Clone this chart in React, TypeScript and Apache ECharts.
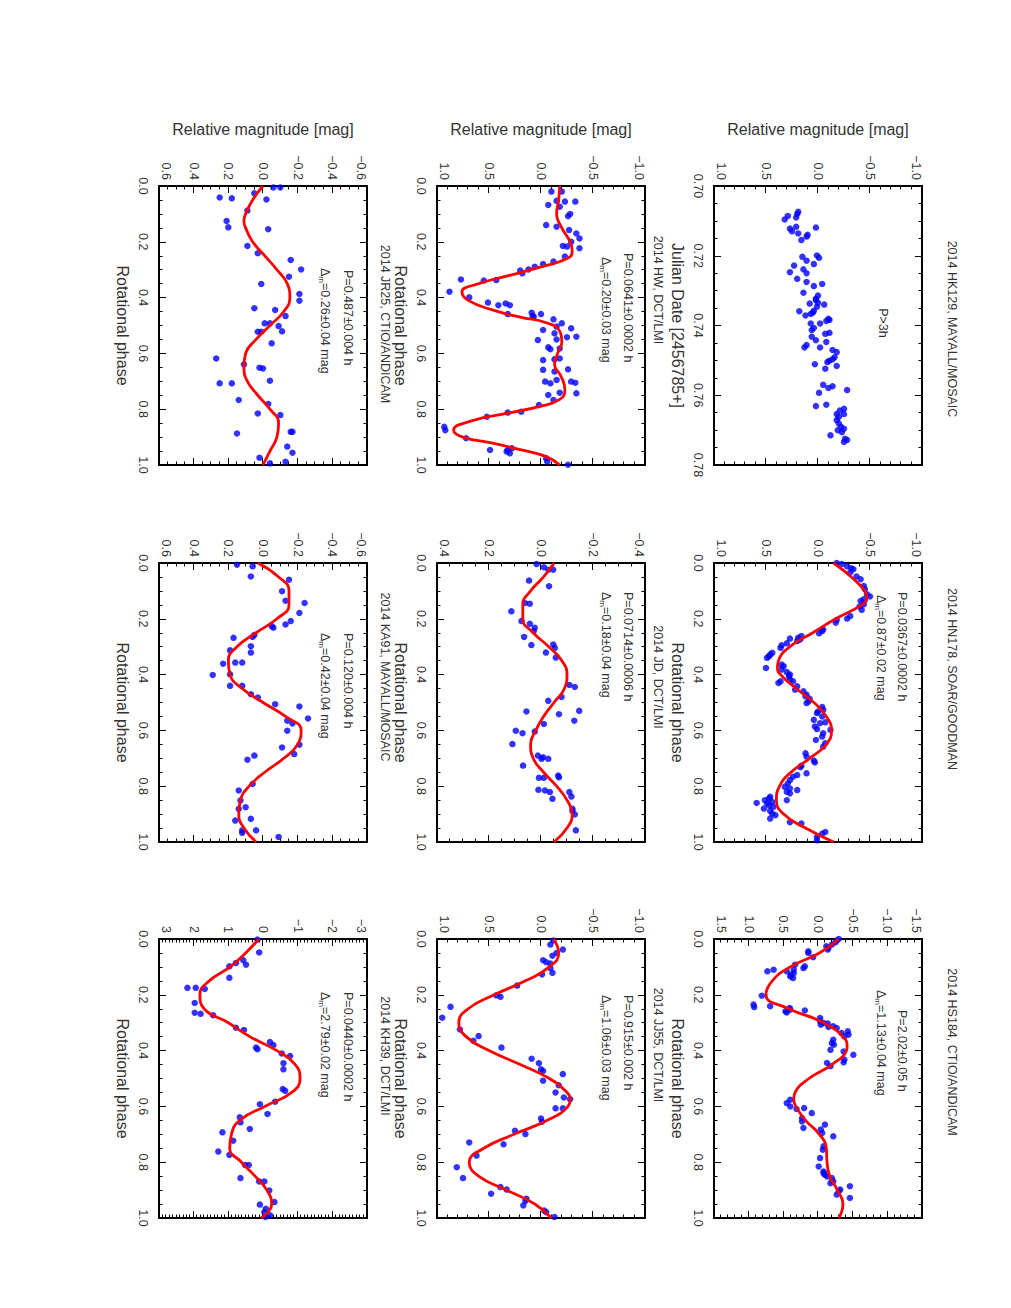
import React, { useEffect, useRef } from "react";
import * as echarts from "echarts";

// ---------------- data ----------------
const panelTitles = [
  "2014 HK129, MAYALL/MOSAIC",
  "2014 HN178, SOAR/GOODMAN",
  "2014 HS184, CTIO/ANDICAM",
  "2014 HW, DCT/LMI",
  "2014 JD, DCT/LMI",
  "2014 JJ55, DCT/LMI",
  "2014 JR25, CTIO/ANDICAM",
  "2014 KA91, MAYALL/MOSAIC",
  "2014 KH39, DCT/LMI",
];
const periodLabels = [
  "P>3h",
  "P=0.0367±0.0002 h",
  "P=2.02±0.05 h",
  "P=0.0641±0.0002 h",
  "P=0.0714±0.0006 h",
  "P=0.915±0.002 h",
  "P=0.487±0.004 h",
  "P=0.120±0.004 h",
  "P=0.0440±0.0002 h",
];
const amplitudeLabels = [
  "",
  "=0.87±0.02 mag",
  "=1.13±0.04 mag",
  "=0.20±0.03 mag",
  "=0.18±0.04 mag",
  "=1.06±0.03 mag",
  "=0.26±0.04 mag",
  "=0.42±0.04 mag",
  "=2.79±0.02 mag",
];
// [min, max, interval, minor splits] of magnitude axes
const magAxes = [
  [-1, 1, 0.5, 5],
  [-1, 1, 0.5, 5],
  [-1.5, 1.5, 0.5, 5],
  [-1, 1, 0.5, 5],
  [-0.4, 0.4, 0.2, 4],
  [-1, 1, 0.5, 5],
  [-0.6, 0.6, 0.2, 4],
  [-0.6, 0.6, 0.2, 4],
  [-3, 3, 1, 10],
];
const magDecimals = [1, 1, 1, 1, 1, 1, 1, 1, 0];
const julianAxis = [0.7, 0.78, 0.02, 4];
const phaseAxis = [0, 1, 0.2, 4];

const hk129Points = [
  [0.7074,0.19],[0.708,0.2],[0.709,0.21],[0.7086,0.29],[0.7096,0.32],[0.7119,0.02],[0.7117,0.21],[0.7122,0.27],[0.713,0.25],[0.7136,0.19],
  [0.714,0.1],[0.7145,0.11],[0.7155,0.16],[0.7199,0.01],[0.7206,-0.01],[0.7203,0.15],[0.7214,0.11],[0.7228,0.23],[0.7224,0.04],[0.7239,0.14],
  [0.7247,0.27],[0.725,0.11],[0.7266,0.2],[0.7275,0.11],[0.7281,-0.04],[0.7287,0.04],[0.7306,0.14],[0.7314,0.0],[0.7323,0.02],[0.7335,0.0],
  [0.7327,0.02],[0.7337,0.08],[0.734,-0.06],[0.7359,0.18],[0.7346,0.01],[0.7358,0.04],[0.7363,0.05],[0.7367,0.07],[0.7371,0.12],[0.7381,-0.1],
  [0.7387,-0.08],[0.7384,-0.11],[0.7394,0.07],[0.7394,-0.02],[0.7407,0.04],[0.7421,-0.11],[0.7424,-0.07],[0.7413,0.06],[0.7432,0.06],[0.7442,0.02],
  [0.7447,-0.08],[0.7456,0.11],[0.7463,0.13],[0.7463,-0.02],[0.747,-0.14],[0.7476,-0.18],[0.7491,-0.16],[0.7497,-0.14],[0.7505,-0.09],[0.7501,-0.11],
  [0.7516,-0.18],[0.7511,0.03],[0.7524,-0.07],[0.757,-0.05],[0.7574,-0.14],[0.7579,-0.1],[0.7585,-0.28],[0.7593,-0.01],[0.7631,0.02],[0.7627,-0.08],
  [0.7639,-0.25],[0.7644,-0.21],[0.7654,-0.18],[0.7654,-0.25],[0.7662,-0.2],[0.7671,-0.18],[0.7681,-0.2],[0.769,-0.22],[0.7696,-0.25],[0.77,-0.19],
  [0.7706,-0.23],[0.7715,-0.12],[0.7725,-0.26],[0.7734,-0.25],[0.7728,-0.28],
];

const hn178Points = [
  [0.0,-0.18],[0.004,-0.23],[0.012,-0.28],[0.019,-0.32],[0.022,-0.34],[0.034,-0.31],[0.048,-0.37],[0.058,-0.41],[0.082,-0.44],[0.094,-0.45],
  [0.112,-0.47],[0.12,-0.5],[0.13,-0.44],[0.136,-0.41],[0.148,-0.44],[0.156,-0.4],[0.168,-0.42],[0.19,-0.31],[0.199,-0.28],[0.204,-0.18],
  [0.214,-0.17],[0.238,-0.05],[0.244,-0.04],[0.252,-0.01],[0.262,0.16],[0.268,0.19],[0.271,0.27],[0.274,0.17],[0.28,0.2],[0.288,0.3],
  [0.295,0.35],[0.304,0.36],[0.322,0.44],[0.328,0.46],[0.334,0.47],[0.34,0.49],[0.376,0.5],[0.364,0.35],[0.37,0.33],[0.382,0.35],
  [0.391,0.3],[0.4,0.27],[0.406,0.28],[0.418,0.27],[0.424,0.36],[0.43,0.38],[0.424,0.24],[0.442,0.2],[0.454,0.22],[0.46,0.14],
  [0.472,0.11],[0.478,0.12],[0.487,0.08],[0.496,0.09],[0.502,0.11],[0.516,-0.04],[0.526,-0.05],[0.532,0.0],[0.538,0.01],[0.55,-0.04],
  [0.562,0.04],[0.571,-0.07],[0.574,-0.02],[0.586,0.03],[0.595,0.01],[0.598,-0.12],[0.61,-0.05],[0.622,-0.04],[0.634,0.02],[0.646,-0.07],
  [0.658,-0.05],[0.682,0.12],[0.694,0.11],[0.708,0.04],[0.715,0.03],[0.727,0.16],[0.732,0.17],[0.754,0.11],[0.76,0.2],[0.766,0.24],
  [0.778,0.27],[0.79,0.29],[0.802,0.32],[0.808,0.27],[0.814,0.2],[0.82,0.3],[0.826,0.27],[0.838,0.46],[0.844,0.47],[0.85,0.51],
  [0.856,0.44],[0.862,0.49],[0.868,0.47],[0.874,0.43],[0.88,0.52],[0.888,0.46],[0.898,0.44],[0.904,0.41],[0.916,0.46],[0.85,0.3],
  [0.86,0.59],[0.929,0.27],[0.934,0.16],[0.964,-0.07],[0.97,-0.04],[0.982,0.01],[0.994,0.01],
];
const hn178Curve = [
  [0,-0.15],[0.05,-0.32],[0.1,-0.45],[0.125,-0.47],[0.15,-0.42],[0.2,-0.17],[0.25,0.05],[0.3,0.27],[0.35,0.38],[0.375,0.39],
  [0.4,0.36],[0.45,0.21],[0.5,0.04],[0.55,-0.08],[0.6,-0.13],[0.65,-0.08],[0.7,0.08],[0.75,0.26],[0.8,0.37],[0.85,0.4],
  [0.9,0.33],[0.95,0.12],[1,-0.15],
];

const hs184Points = [
  [0.0,-0.3],[0.005,-0.27],[0.012,-0.25],[0.02,-0.2],[0.026,-0.12],[0.032,-0.15],[0.038,-0.14],[0.044,0.14],[0.05,0.14],[0.065,0.07],
  [0.092,0.33],[0.098,0.19],[0.104,0.21],[0.11,0.35],[0.116,0.45],[0.122,0.35],[0.128,0.39],[0.134,0.4],[0.14,0.36],[0.11,0.64],
  [0.116,0.73],[0.203,0.81],[0.235,0.93],[0.244,0.92],[0.241,0.69],[0.247,0.41],[0.253,0.4],[0.259,0.47],[0.263,0.45],[0.256,0.19],
  [0.283,-0.03],[0.295,-0.03],[0.301,-0.08],[0.307,-0.04],[0.303,-0.14],[0.313,-0.22],[0.315,-0.15],[0.319,-0.27],[0.337,-0.34],[0.331,-0.43],
  [0.343,-0.44],[0.349,-0.38],[0.361,-0.22],[0.373,-0.2],[0.379,-0.23],[0.397,-0.18],[0.403,-0.37],[0.415,-0.51],[0.432,-0.38],[0.442,-0.37],
  [0.444,-0.13],[0.456,-0.18],[0.576,0.4],[0.588,0.45],[0.6,0.4],[0.606,0.2],[0.609,0.31],[0.624,0.09],[0.642,0.23],[0.654,0.23],
  [0.665,-0.1],[0.677,0.21],[0.683,-0.04],[0.695,-0.06],[0.707,-0.22],[0.743,-0.08],[0.755,-0.07],[0.785,-0.03],[0.815,-0.01],[0.833,-0.08],
  [0.839,-0.08],[0.845,-0.1],[0.851,-0.13],[0.857,-0.2],[0.869,-0.22],[0.875,-0.18],[0.886,-0.46],[0.898,-0.32],[0.904,-0.3],[0.916,-0.27],
  [0.928,-0.46],
];
const hs184Curve = [
  [0,-0.3],[0.05,-0.02],[0.1,0.4],[0.15,0.66],[0.2,0.75],[0.25,0.42],[0.3,-0.08],[0.35,-0.36],[0.385,-0.42],[0.4,-0.41],
  [0.45,-0.2],[0.5,0.13],[0.55,0.33],[0.575,0.35],[0.6,0.32],[0.65,0.18],[0.7,-0.02],[0.75,-0.12],[0.8,-0.13],[0.85,-0.17],
  [0.9,-0.28],[0.95,-0.36],[1,-0.3],
];

const hwPoints = [
  [0.02,-0.1],[0.02,-0.2],[0.053,-0.15],[0.056,-0.23],[0.056,-0.33],[0.068,-0.07],[0.074,-0.18],[0.1,-0.28],[0.108,-0.26],[0.14,-0.05],
  [0.146,-0.15],[0.158,-0.27],[0.17,-0.34],[0.188,-0.37],[0.2,-0.29],[0.215,-0.21],[0.217,-0.25],[0.223,-0.37],[0.253,-0.23],[0.271,-0.12],
  [0.28,-0.02],[0.289,0.06],[0.299,0.12],[0.303,0.2],[0.313,0.18],[0.335,0.77],[0.339,0.55],[0.337,0.43],[0.379,0.88],[0.399,0.69],
  [0.418,0.51],[0.427,0.41],[0.421,0.34],[0.427,0.3],[0.454,0.09],[0.459,0.32],[0.466,0.08],[0.468,0.07],[0.459,0.0],[0.478,-0.12],
  [0.492,-0.2],[0.504,-0.15],[0.51,-0.29],[0.516,-0.02],[0.528,-0.13],[0.54,-0.34],[0.542,-0.25],[0.55,-0.15],[0.552,0.03],[0.578,-0.07],
  [0.582,-0.18],[0.585,-0.09],[0.618,-0.18],[0.621,-0.13],[0.624,-0.02],[0.657,-0.26],[0.659,-0.02],[0.665,-0.13],[0.695,-0.15],[0.701,-0.29],
  [0.705,-0.33],[0.701,-0.04],[0.707,-0.09],[0.743,-0.34],[0.741,-0.18],[0.749,-0.07],[0.767,-0.12],[0.785,0.02],[0.809,0.19],[0.812,0.32],
  [0.827,0.52],[0.863,0.93],[0.875,0.92],[0.904,0.72],[0.94,0.28],[0.946,0.32],[0.952,0.33],[0.946,0.49],[0.958,0.3],[0.976,-0.05],
  [0.988,-0.06],[0.999,-0.26],
];
const hwCurve = [
  [0,-0.18],[0.05,-0.17],[0.1,-0.15],[0.15,-0.2],[0.2,-0.28],[0.235,-0.3],[0.26,-0.25],[0.29,0.0],[0.325,0.35],[0.35,0.6],
  [0.38,0.76],[0.41,0.7],[0.445,0.46],[0.47,0.2],[0.49,-0.05],[0.52,-0.18],[0.56,-0.2],[0.6,-0.16],[0.64,-0.13],[0.68,-0.19],
  [0.73,-0.23],[0.765,-0.18],[0.79,0.01],[0.815,0.33],[0.84,0.65],[0.875,0.84],[0.9,0.75],[0.92,0.49],[0.945,0.2],[0.97,-0.05],
  [1,-0.18],
];

const jdPoints = [
  [0.004,0.017],[0.015,-0.011],[0.024,-0.047],[0.024,-0.028],[0.063,0.046],[0.083,-0.031],[0.143,0.062],[0.146,0.043],[0.173,0.114],[0.208,0.075],
  [0.218,0.043],[0.232,0.024],[0.244,0.028],[0.265,0.065],[0.294,0.037],[0.292,-0.047],[0.304,-0.053],[0.321,-0.019],[0.339,-0.057],[0.437,-0.109],
  [0.444,-0.13],[0.48,-0.079],[0.494,-0.028],[0.53,-0.147],[0.532,0.056],[0.542,-0.069],[0.565,-0.128],[0.577,-0.011],[0.601,0.097],[0.61,0.071],
  [0.604,0.024],[0.649,0.11],[0.69,0.012],[0.696,-0.008],[0.702,-0.002],[0.702,-0.028],[0.726,0.069],[0.762,-0.066],[0.768,-0.069],[0.77,-0.011],
  [0.77,0.008],[0.813,0.01],[0.815,-0.015],[0.821,-0.034],[0.845,-0.044],[0.821,-0.109],[0.837,-0.117],[0.881,-0.121],[0.889,-0.121],[0.901,-0.13],
  [0.958,-0.134],
];
const jdCurve = [
  [0,-0.05],[0.05,-0.01],[0.1,0.04],[0.15,0.07],[0.2,0.07],[0.25,0.03],[0.3,-0.03],[0.35,-0.08],[0.4,-0.1],[0.45,-0.09],
  [0.5,-0.05],[0.55,-0.01],[0.6,0.02],[0.65,0.04],[0.7,0.03],[0.75,-0.01],[0.8,-0.06],[0.85,-0.1],[0.9,-0.12],[0.95,-0.1],
  [1,-0.05],
];

const jj55Points = [
  [0.005,-0.12],[0.02,-0.09],[0.038,-0.21],[0.05,-0.15],[0.06,-0.11],[0.076,-0.02],[0.083,-0.05],[0.088,-0.09],[0.104,-0.09],[0.121,-0.11],
  [0.127,-0.01],[0.167,0.23],[0.202,0.43],[0.207,0.39],[0.243,0.87],[0.282,0.95],[0.324,0.78],[0.348,0.6],[0.365,0.65],[0.389,0.38],
  [0.429,0.09],[0.445,0.02],[0.467,0.0],[0.473,-0.02],[0.484,-0.21],[0.508,-0.02],[0.524,-0.17],[0.55,-0.14],[0.568,-0.22],[0.574,-0.28],
  [0.607,-0.21],[0.607,-0.14],[0.643,0.0],[0.655,-0.01],[0.687,0.25],[0.699,0.15],[0.729,0.69],[0.736,0.36],[0.776,0.62],[0.818,0.81],
  [0.857,0.75],[0.889,0.39],[0.898,0.33],[0.913,0.48],[0.931,0.14],[0.939,0.15],[0.955,0.17],[0.973,-0.03],[0.979,-0.05],[0.996,-0.13],
];
const jj55Curve = [
  [0,-0.12],[0.05,-0.17],[0.1,-0.08],[0.15,0.15],[0.2,0.45],[0.25,0.7],[0.3,0.79],[0.35,0.72],[0.4,0.5],[0.45,0.2],
  [0.5,-0.08],[0.55,-0.25],[0.575,-0.28],[0.6,-0.26],[0.65,-0.06],[0.7,0.26],[0.75,0.55],[0.8,0.69],[0.85,0.6],[0.9,0.33],
  [0.95,0.06],[1,-0.1],
];

const jr25Points = [
  [0.005,-0.06],[0.005,-0.1],[0.026,0.05],[0.041,0.25],[0.044,0.18],[0.048,-0.02],[0.088,0.09],[0.125,0.21],[0.148,0.2],[0.155,-0.03],
  [0.215,0.09],[0.241,0.03],[0.265,-0.16],[0.299,-0.22],[0.325,-0.15],[0.351,0.01],[0.387,-0.21],[0.411,-0.21],[0.438,0.05],[0.444,-0.07],
  [0.466,-0.13],[0.492,-0.01],[0.492,-0.04],[0.502,-0.09],[0.522,0.03],[0.522,0.01],[0.521,-0.11],[0.564,-0.05],[0.618,0.27],[0.639,0.11],
  [0.651,0.02],[0.654,0.0],[0.698,-0.04],[0.707,0.25],[0.707,0.18],[0.767,0.14],[0.781,-0.03],[0.815,0.03],[0.821,-0.1],[0.881,-0.16],
  [0.881,-0.17],[0.887,0.15],[0.934,-0.14],[0.956,-0.17],[0.974,0.02],[0.988,-0.13],[0.994,-0.04],
];
const jr25Curve = [
  [0,0.0],[0.05,0.06],[0.1,0.1],[0.125,0.11],[0.15,0.1],[0.2,0.06],[0.25,-0.01],[0.3,-0.08],[0.35,-0.14],[0.4,-0.155],
  [0.45,-0.12],[0.5,-0.04],[0.55,0.04],[0.6,0.1],[0.65,0.11],[0.7,0.09],[0.75,0.03],[0.8,-0.04],[0.85,-0.09],[0.9,-0.08],
  [0.95,-0.04],[1,0.0],
];

const ka91Points = [
  [0.006,0.15],[0.012,0.06],[0.048,0.07],[0.06,-0.15],[0.101,-0.11],[0.135,-0.13],[0.143,-0.24],[0.179,-0.21],[0.208,-0.16],[0.22,-0.13],
  [0.226,-0.05],[0.232,-0.06],[0.265,0.06],[0.268,0.17],[0.258,0.05],[0.298,0.07],[0.313,0.19],[0.321,0.07],[0.361,0.23],[0.357,0.12],
  [0.357,0.16],[0.401,0.29],[0.399,0.19],[0.44,0.19],[0.44,0.12],[0.47,0.07],[0.482,0.03],[0.506,-0.07],[0.514,-0.21],[0.557,-0.26],
  [0.565,-0.14],[0.575,-0.17],[0.601,-0.14],[0.661,-0.11],[0.651,-0.21],[0.685,-0.18],[0.69,0.05],[0.705,0.09],[0.792,0.06],[0.815,0.14],
  [0.851,0.13],[0.875,0.1],[0.881,0.14],[0.917,0.07],[0.923,0.16],[0.958,0.12],[0.967,0.12],[0.958,0.04],[0.982,-0.09],
];
const ka91Curve = [
  [0,0.03],[0.05,-0.09],[0.1,-0.15],[0.15,-0.15],[0.2,-0.08],[0.25,0.04],[0.3,0.15],[0.35,0.2],[0.4,0.19],[0.45,0.12],
  [0.5,0.0],[0.55,-0.13],[0.6,-0.22],[0.65,-0.2],[0.7,-0.12],[0.75,-0.01],[0.8,0.08],[0.85,0.13],[0.9,0.14],[0.95,0.11],
  [1,0.04],
];

const kh39Points = [
  [0.002,0.16],[0.048,0.11],[0.076,0.57],[0.092,0.49],[0.098,0.97],[0.086,0.78],[0.139,0.97],[0.175,2.18],[0.175,1.94],[0.179,1.68],
  [0.229,1.97],[0.264,1.97],[0.268,1.8],[0.273,1.44],[0.318,0.78],[0.326,0.55],[0.389,0.2],[0.395,0.16],[0.369,-0.2],[0.38,-0.3],
  [0.41,-0.54],[0.419,-0.78],[0.445,-0.59],[0.467,-0.59],[0.544,-0.64],[0.538,-0.57],[0.583,-0.35],[0.592,0.09],[0.627,-0.13],[0.639,0.67],
  [0.657,0.65],[0.681,0.38],[0.693,1.17],[0.723,0.86],[0.762,1.29],[0.774,0.97],[0.81,0.52],[0.81,0.41],[0.857,0.65],[0.869,0.11],
  [0.869,-0.04],[0.901,-0.18],[0.943,-0.33],[0.952,0.09],[0.967,-0.08],[0.979,-0.04],[0.99,-0.2],[0.996,-0.07],
];
const kh39Curve = [
  [0,0.12],[0.05,0.5],[0.1,0.95],[0.15,1.55],[0.2,1.82],[0.25,1.7],[0.3,1.0],[0.35,0.38],[0.4,-0.4],[0.45,-0.93],
  [0.5,-1.07],[0.55,-0.83],[0.6,-0.05],[0.65,0.67],[0.7,0.91],[0.75,0.96],[0.8,0.62],[0.85,0.23],[0.9,-0.11],[0.95,-0.25],
  [1,0.05],
];

const panelPoints = [hk129Points, hn178Points, hs184Points, hwPoints, jdPoints, jj55Points, jr25Points, ka91Points, kh39Points];
const panelCurves = [null, hn178Curve, hs184Curve, hwCurve, jdCurve, jj55Curve, jr25Curve, ka91Curve, kh39Curve];

// ---------------- layout (landscape frame, rotated afterwards) ----------------
const PAGE_W = 1011;
const PAGE_H = 1308;
const gridLefts = [186, 563, 939];
const gridTops = [89, 366, 644];
const GRID_W = 279;
const GRID_H = 208;
const titleY = [59, 353, 626];
const titleX = [329, 679, 1052, 290, 677, 1045, 324, 677, 1056];
const periodY = [109, 383, 663];
const ampY = [128, 403, 684];
const periodX = [323, 592, 1010, 253, 592, 995, 270, 633, 992];
const ampX = [0, 595, 990, 257, 592, 995, 268, 633, 992];

const FONT = "'Liberation Sans', Arial, Helvetica, sans-serif";
const TEXT = "#333";

const fmt = (d: number) => (v: number) => {
  const s = Math.abs(v) < 1e-9 ? (0).toFixed(d) : v.toFixed(d);
  return s.replace("-", "\u2212");
};

function buildOption() {
  const grid: any[] = [];
  const xAxis: any[] = [];
  const yAxis: any[] = [];
  const series: any[] = [];
  const graphic: any[] = [];

  for (let i = 0; i < 9; i++) {
    const row = Math.floor(i / 3);
    const col = i % 3;
    grid.push({ left: gridLefts[col], top: gridTops[row], width: GRID_W, height: GRID_H, containLabel: false });

    const xa = i === 0 ? julianAxis : phaseAxis;
    const xDec = i === 0 ? 2 : 1;
    const [ymin, ymax, yint, ysplit] = magAxes[i];

    const lineS = { show: true, onZero: false, lineStyle: { color: "#000", width: 2 } };
    const tickS = { show: true, inside: true, length: 7, lineStyle: { color: "#000", width: 1 } };
    const baseX = {
      type: "value", gridIndex: i, min: xa[0], max: xa[1], interval: xa[2],
      axisLine: lineS, axisTick: tickS,
      minorTick: { show: true, splitNumber: xa[3], length: 3.5, lineStyle: { color: "#000", width: 1 } },
      splitLine: { show: false }, minorSplitLine: { show: false },
    };
    xAxis.push({
      ...baseX, position: "bottom",
      axisLabel: { show: true, margin: 10, fontSize: 12.5, color: TEXT, fontFamily: FONT, formatter: fmt(xDec) },
      name: i === 0 ? "Julian Date [2456785+]" : "Rotational phase",
      nameLocation: "middle", nameGap: 29,
      nameTextStyle: { fontSize: 16, color: TEXT, fontFamily: FONT },
    });
    xAxis.push({ ...baseX, position: "top", axisLabel: { show: false } });

    const baseY = {
      type: "value", gridIndex: i, min: ymin, max: ymax, interval: yint, inverse: true,
      axisLine: lineS, axisTick: tickS,
      minorTick: { show: true, splitNumber: ysplit, length: 3.5, lineStyle: { color: "#000", width: 1 } },
      splitLine: { show: false }, minorSplitLine: { show: false },
    };
    yAxis.push({
      ...baseY, position: "left",
      axisLabel: {
        show: true, margin: 6, fontSize: 12.5, color: TEXT, fontFamily: FONT, formatter: fmt(magDecimals[i]),
        verticalAlignMinLabel: "top", verticalAlignMaxLabel: "bottom",
      },
      name: col === 0 ? "Relative magnitude [mag]" : "",
      nameLocation: "middle", nameGap: 49,
      nameTextStyle: { fontSize: 16, color: TEXT, fontFamily: FONT },
    });
    yAxis.push({ ...baseY, position: "right", axisLabel: { show: false } });

    series.push({
      type: "scatter", xAxisIndex: 2 * i, yAxisIndex: 2 * i, data: panelPoints[i],
      symbol: "circle", symbolSize: 6.5, itemStyle: { color: "#0000ff" }, clip: true, silent: true, z: 2,
    });
    if (panelCurves[i]) {
      series.push({
        type: "line", xAxisIndex: 2 * i, yAxisIndex: 2 * i, data: panelCurves[i],
        smooth: 0.5, showSymbol: false, symbol: "none", clip: true, silent: true, z: 3,
        lineStyle: { color: "#ff0000", width: 2.8 },
      });
    }

    graphic.push({
      type: "text", x: titleX[i], y: titleY[row], silent: true,
      style: { text: panelTitles[i], fill: TEXT, fontSize: 12.5, fontFamily: FONT, align: "center", verticalAlign: "middle" },
    });
    if (i === 0) {
      graphic.push({
        type: "text", x: periodX[i], y: ampY[row], silent: true,
        style: { text: periodLabels[i], fill: TEXT, fontSize: 12.5, fontFamily: FONT, align: "center", verticalAlign: "middle" },
      });
    } else {
      graphic.push({
        type: "text", x: periodX[i], y: periodY[row], silent: true,
        style: { text: periodLabels[i], fill: TEXT, fontSize: 12.5, fontFamily: FONT, align: "left", verticalAlign: "middle" },
      });
      graphic.push({
        type: "text", x: ampX[i], y: ampY[row] + 2, silent: true,
        style: {
          text: "{a|Δ}{s|m}{a|" + amplitudeLabels[i] + "}",
          align: "left", verticalAlign: "middle", fontFamily: FONT, fontSize: 12.5, fill: TEXT,
          rich: {
            a: { fontSize: 12.5, fontFamily: FONT, fill: TEXT, color: TEXT, lineHeight: 16 },
            s: { fontSize: 8, fontFamily: FONT, fill: TEXT, color: TEXT, lineHeight: 8, padding: [8, 0, 0, 0] },
          },
        },
      });
    }
  }

  return { animation: false, backgroundColor: "#fff", grid, xAxis, yAxis, series, graphic };
}

export default function App() {
  const ref = useRef<HTMLDivElement>(null);
  useEffect(() => {
    if (!ref.current) return;
    const chart = echarts.init(ref.current, undefined, { renderer: "svg" });
    chart.setOption(buildOption() as any);
    return () => chart.dispose();
  }, []);
  return (
    <div style={{ position: "fixed", left: 0, top: 0, width: PAGE_W, height: PAGE_H, overflow: "hidden", background: "#fff" }}>
      <div
        ref={ref}
        style={{
          position: "absolute", left: 0, top: 0, width: PAGE_H, height: PAGE_W,
          transformOrigin: "0 0", transform: `translateX(${PAGE_W}px) rotate(90deg)`,
        }}
      />
    </div>
  );
}
